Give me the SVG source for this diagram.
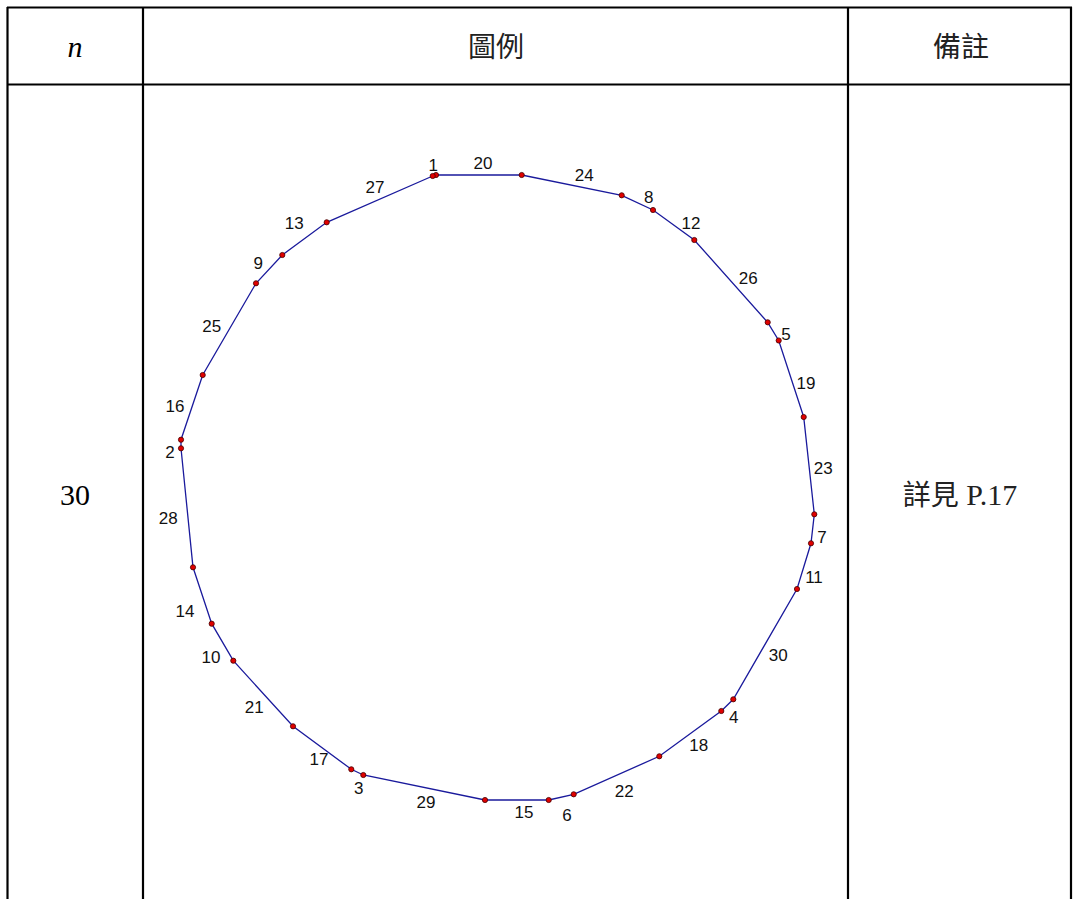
<svg xmlns="http://www.w3.org/2000/svg" width="1075" height="899" viewBox="0 0 1075 899">
<style>
.grid{stroke:#000;stroke-width:2.2;fill:none}
.hd{font-family:"Liberation Serif","Noto Sans CJK TC",serif;font-size:30px;fill:#000;text-anchor:middle}
.cjk{font-family:"Noto Sans CJK TC",sans-serif;font-size:28px;fill:#222;text-anchor:middle}
.lb{font-family:"Liberation Sans",Arial,sans-serif;font-size:17px;fill:#111;text-anchor:middle}
.edge{fill:none;stroke:#1a1a9c;stroke-width:1.3}
.pt{fill:#e00000;stroke:#400;stroke-width:0.8}
</style>
<rect width="1075" height="899" fill="#fff"/>
<g id="table">
<line class="grid" x1="7" y1="7.5" x2="1072" y2="7.5"/>
<line class="grid" x1="7" y1="84.5" x2="1072" y2="84.5"/>
<line class="grid" x1="7.5" y1="7" x2="7.5" y2="899"/>
<line class="grid" x1="143" y1="7" x2="143" y2="899"/>
<line class="grid" x1="848" y1="7" x2="848" y2="899"/>
<line class="grid" x1="1071" y1="7" x2="1071" y2="899"/>
<text class="hd" x="75" y="57" font-style="italic">n</text>
<text class="cjk" x="496" y="57">圖例</text>
<text class="cjk" x="961" y="57">備註</text>
<text class="hd" x="75" y="505">30</text>
<text x="960" y="505" font-size="28" text-anchor="middle" fill="#222"><tspan font-family="Noto Sans CJK TC, sans-serif">詳見</tspan><tspan font-family="Liberation Serif, serif" font-size="30"> P.17</tspan></text>
</g>
<g id="connectors">
<polygon class="edge" points="436,175 521.7,175 621.7,195.3 653,210 694.3,240 767.7,322.3 778.7,340.5 803.7,417 814.3,514.3 811,543.3 797,589 733.3,699.3 721.3,711 659.3,756.3 573.7,794.3 548.7,800 485,800 363.3,775 351.3,769.3 293,726.3 233.3,660.7 211.7,623.7 193,567.3 181,448.3 181,439.7 202.7,375 256,283.3 282.3,255 326.7,222.3 432.7,176"/>
</g>
<g id="points">
<g id="p1"><circle class="pt" cx="436" cy="175" r="2.6"/></g>
<g id="p2"><circle class="pt" cx="521.7" cy="175" r="2.6"/></g>
<g id="p3"><circle class="pt" cx="621.7" cy="195.3" r="2.6"/></g>
<g id="p4"><circle class="pt" cx="653" cy="210" r="2.6"/></g>
<g id="p5"><circle class="pt" cx="694.3" cy="240" r="2.6"/></g>
<g id="p6"><circle class="pt" cx="767.7" cy="322.3" r="2.6"/></g>
<g id="p7"><circle class="pt" cx="778.7" cy="340.5" r="2.6"/></g>
<g id="p8"><circle class="pt" cx="803.7" cy="417" r="2.6"/></g>
<g id="p9"><circle class="pt" cx="814.3" cy="514.3" r="2.6"/></g>
<g id="p10"><circle class="pt" cx="811" cy="543.3" r="2.6"/></g>
<g id="p11"><circle class="pt" cx="797" cy="589" r="2.6"/></g>
<g id="p12"><circle class="pt" cx="733.3" cy="699.3" r="2.6"/></g>
<g id="p13"><circle class="pt" cx="721.3" cy="711" r="2.6"/></g>
<g id="p14"><circle class="pt" cx="659.3" cy="756.3" r="2.6"/></g>
<g id="p15"><circle class="pt" cx="573.7" cy="794.3" r="2.6"/></g>
<g id="p16"><circle class="pt" cx="548.7" cy="800" r="2.6"/></g>
<g id="p17"><circle class="pt" cx="485" cy="800" r="2.6"/></g>
<g id="p18"><circle class="pt" cx="363.3" cy="775" r="2.6"/></g>
<g id="p19"><circle class="pt" cx="351.3" cy="769.3" r="2.6"/></g>
<g id="p20"><circle class="pt" cx="293" cy="726.3" r="2.6"/></g>
<g id="p21"><circle class="pt" cx="233.3" cy="660.7" r="2.6"/></g>
<g id="p22"><circle class="pt" cx="211.7" cy="623.7" r="2.6"/></g>
<g id="p23"><circle class="pt" cx="193" cy="567.3" r="2.6"/></g>
<g id="p24"><circle class="pt" cx="181" cy="448.3" r="2.6"/></g>
<g id="p25"><circle class="pt" cx="181" cy="439.7" r="2.6"/></g>
<g id="p26"><circle class="pt" cx="202.7" cy="375" r="2.6"/></g>
<g id="p27"><circle class="pt" cx="256" cy="283.3" r="2.6"/></g>
<g id="p28"><circle class="pt" cx="282.3" cy="255" r="2.6"/></g>
<g id="p29"><circle class="pt" cx="326.7" cy="222.3" r="2.6"/></g>
<g id="p30"><circle class="pt" cx="432.7" cy="176" r="2.6"/></g>
</g>
<g id="labels">
<text class="lb" x="433.3" y="171">1</text>
<text class="lb" x="483" y="169">20</text>
<text class="lb" x="375" y="192.7">27</text>
<text class="lb" x="294.3" y="228.7">13</text>
<text class="lb" x="258.3" y="269.3">9</text>
<text class="lb" x="211.7" y="332">25</text>
<text class="lb" x="584.3" y="181">24</text>
<text class="lb" x="648.7" y="202.7">8</text>
<text class="lb" x="691" y="229.3">12</text>
<text class="lb" x="748.3" y="284.3">26</text>
<text class="lb" x="786" y="339.5">5</text>
<text class="lb" x="806" y="389.3">19</text>
<text class="lb" x="823.3" y="474.3">23</text>
<text class="lb" x="822" y="543.3">7</text>
<text class="lb" x="814" y="582.7">11</text>
<text class="lb" x="175" y="411.7">16</text>
<text class="lb" x="170" y="458">2</text>
<text class="lb" x="168.3" y="523.7">28</text>
<text class="lb" x="185" y="616.7">14</text>
<text class="lb" x="211" y="662.7">10</text>
<text class="lb" x="254.3" y="713.3">21</text>
<text class="lb" x="319" y="765.3">17</text>
<text class="lb" x="358.7" y="793.7">3</text>
<text class="lb" x="426" y="808.3">29</text>
<text class="lb" x="778.3" y="661">30</text>
<text class="lb" x="733.7" y="723">4</text>
<text class="lb" x="698.7" y="751.3">18</text>
<text class="lb" x="624.3" y="797.3">22</text>
<text class="lb" x="524" y="818.3">15</text>
<text class="lb" x="567" y="821">6</text>
</g>
</svg>
